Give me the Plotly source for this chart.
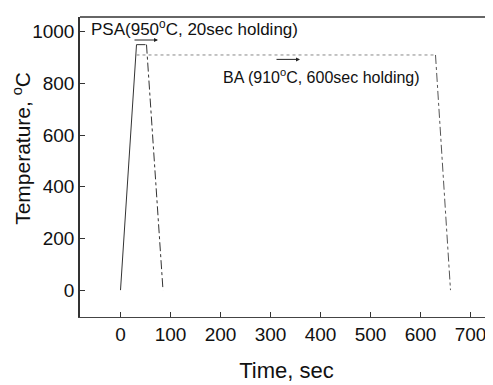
import plotly.graph_objects as go

# PSA cycle
psa_time = [0, 32, 52, 85]
psa_temp = [0, 950, 950, 0]
# BA cycle
ba_hold_time = [32, 630]
ba_hold_temp = [910, 910]
ba_cool_time = [630, 660]
ba_cool_temp = [910, 0]

x_ticks = [0, 100, 200, 300, 400, 500, 600, 700]
y_ticks = [0, 200, 400, 600, 800, 1000]

font = "Liberation Sans, Arial, sans-serif"
line_col = "#333333"

fig = go.Figure()
fig.add_trace(go.Scatter(x=psa_time[:2], y=psa_temp[:2], mode="lines",
                         line=dict(color=line_col, width=1)))
fig.add_trace(go.Scatter(x=psa_time[1:3], y=psa_temp[1:3], mode="lines",
                         line=dict(color=line_col, width=1, dash="dash")))
fig.add_trace(go.Scatter(x=psa_time[2:], y=psa_temp[2:], mode="lines",
                         line=dict(color=line_col, width=1, dash="dashdot")))
fig.add_trace(go.Scatter(x=ba_hold_time, y=ba_hold_temp, mode="lines",
                         line=dict(color="#888888", width=1, dash="dot")))
fig.add_trace(go.Scatter(x=ba_cool_time, y=ba_cool_temp, mode="lines",
                         line=dict(color="#555555", width=1, dash="dashdot")))

fig.add_annotation(x=-64, y=1013, xref="x", yref="y", text="PSA(950<sup>o</sup>C, 20sec holding)",
                   showarrow=False, xanchor="left", yanchor="middle",
                   font=dict(family=font, size=17, color="#111"))
fig.add_annotation(x=200, y=830, xref="x", yref="y", text="BA (910<sup>o</sup>C, 600sec holding)",
                   showarrow=False, xanchor="left", yanchor="middle",
                   font=dict(family=font, size=16, color="#111"))
# arrows
fig.add_annotation(x=75, y=968, ax=25, ay=968, xref="x", yref="y", axref="x", ayref="y",
                   text="", showarrow=True, arrowhead=2, arrowsize=0.8, arrowwidth=1,
                   arrowcolor="#222")
fig.add_annotation(x=359, y=893, ax=309, ay=893, xref="x", yref="y", axref="x", ayref="y",
                   text="", showarrow=True, arrowhead=2, arrowsize=0.8, arrowwidth=1,
                   arrowcolor="#222")
# y-axis title
fig.add_annotation(x=-0.141, y=0.563, xref="paper", yref="paper",
                   text="Temperature, <sup>o</sup>C", textangle=-90, showarrow=False,
                   xanchor="center", yanchor="middle", borderpad=0,
                   font=dict(family=font, size=21, color="#111"))

fig.add_shape(type="line", xref="paper", yref="paper", x0=0, x1=1, y0=1, y1=1,
              line=dict(color="#333", width=1.5))

# page body adds 8px offset; compensate so the plot area lands at 80..493 x 17..317
fig.update_layout(
    width=485, height=377,
    margin=dict(l=72, r=0, t=9, b=68),
    paper_bgcolor="white", plot_bgcolor="white",
    showlegend=False,
    font=dict(family=font, color="#111"),
    xaxis=dict(range=[-81, 745], tickvals=x_ticks, ticktext=[str(v) for v in x_ticks],
               ticks="inside", ticklen=5, tickcolor="#333", showline=True, linecolor="#444",
               linewidth=1.2, showgrid=False, zeroline=False, automargin=False,
               tickfont=dict(size=19, family=font),
               title=dict(text="Time, sec", font=dict(size=22, family=font), standoff=18)),
    yaxis=dict(range=[-104, 1057], tickvals=y_ticks, ticktext=[str(v) for v in y_ticks],
               ticks="inside", ticklen=5, tickcolor="#333", showline=True, linecolor="#333",
               linewidth=1.5, showgrid=False, zeroline=False, automargin=False,
               tickfont=dict(size=19, family=font)),
)

fig.write_html("out.html")
